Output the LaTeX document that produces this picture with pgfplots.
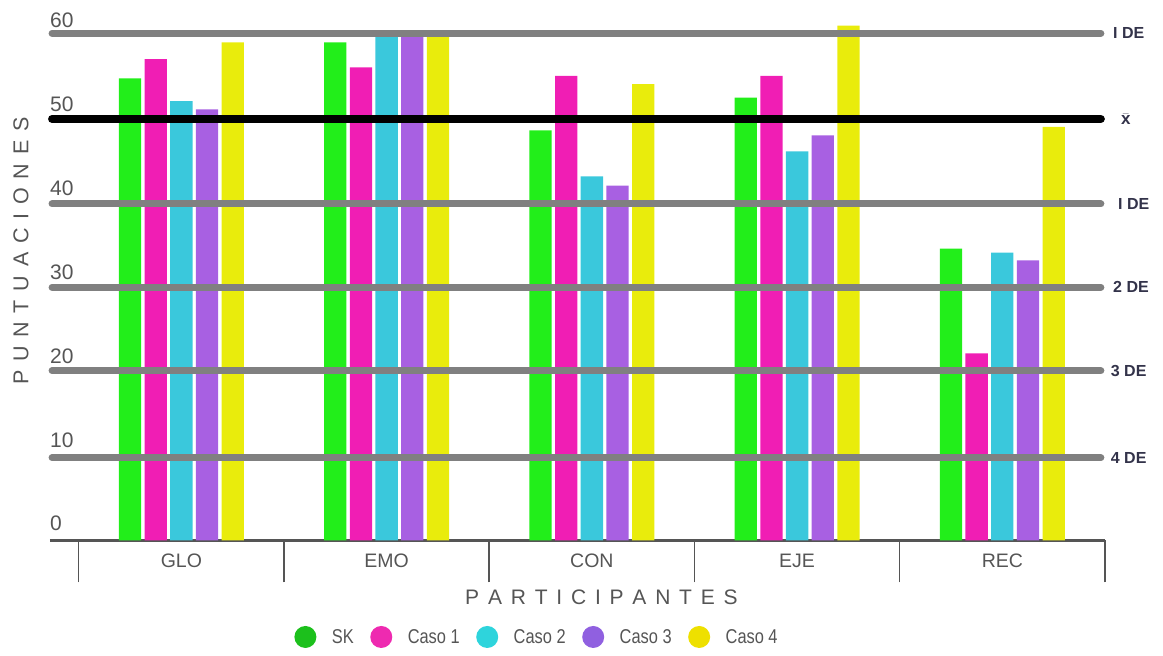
\documentclass[border=0pt]{standalone}
\usepackage{pgfplots}
\pgfplotsset{compat=1.18}
\usepackage{fontspec}
\setmainfont{Liberation Sans}
\newfontfamily\condfont[FakeStretch=0.82]{Liberation Sans}
\definecolor{cSK}{HTML}{22EE1A}
\definecolor{cC1}{HTML}{F01EB4}
\definecolor{cC2}{HTML}{3AC8DC}
\definecolor{cC3}{HTML}{A860E2}
\definecolor{cC4}{HTML}{E9EC0C}
\definecolor{lSK}{HTML}{1CC01C}
\definecolor{lC1}{HTML}{EE2AB0}
\definecolor{lC2}{HTML}{2ED4DC}
\definecolor{lC3}{HTML}{9060E0}
\definecolor{lC4}{HTML}{EEE000}
\definecolor{labgray}{HTML}{555555}
\definecolor{axisgray}{HTML}{555555}
\definecolor{linegray}{HTML}{808080}
\definecolor{rlab}{HTML}{33334A}
\newcommand\ls{\hspace{8.8pt}}
\pgfplotsset{legcirc/.style={legend image code/.code={\fill[#1] (0pt,0pt) circle (11pt);}}}
\begin{document}
\begin{tikzpicture}[x=1pt,y=1pt]
\path[use as bounding box] (0,0) rectangle (1163,656);
\begin{axis}[
  at={(50pt,115.7pt)}, anchor=south west, scale only axis,
  width=1055pt, height=503pt,
  xmin=-0.64, xmax=4.5, ymin=0, ymax=60,
  clip=false,
  ybar=3.4pt, bar width=22.3pt,
  axis x line*=bottom, axis y line*=left,
  x axis line style={draw=axisgray, line width=2.5pt},
  y axis line style={draw=none},
  xtick={-0.5,0.5,1.5,2.5,3.5,4.5},
  x tick label as interval,
  xticklabels={GLO,EMO,CON,EJE,REC},
  xtick align=outside,
  xtick style={draw=axisgray, line width=1.5pt},
  major tick length=42pt,
  ytick={0,10,20,30,40,50,60},
  ytick style={draw=none},
  /pgf/number format/assume math mode=true,
  yticklabel style={anchor=base west, inner sep=0pt, yshift=9.3pt, font=\fontsize{21}{25}\selectfont, text=labgray},
  xticklabel style={font=\fontsize{19.5}{23}\selectfont, text=labgray, yshift=32pt},
  ylabel={P\ls U\ls N\ls T\ls U\ls A\ls C\ls I\ls O\ls N\ls E\ls S},
  ylabel style={at={(axis description cs:-0.0275,0.575)}, anchor=center, font=\fontsize{21.5}{25}\selectfont, text=labgray},
  xlabel={P\ls A\ls R\ls T\ls I\ls C\ls I\ls P\ls A\ls N\ls T\ls E\ls S},
  xlabel style={at={(axis description cs:0.5227,-0.1137)}, anchor=center, font=\fontsize{21}{25}\selectfont, text=labgray},
  legend columns=5,
  legend style={at={(axis description cs:0.4607,-0.1922)}, anchor=center, draw=none, fill=none,
    font=\condfont\fontsize{20}{24}\selectfont, text=labgray, nodes={inner sep=0pt},
    /tikz/every odd column/.append style={column sep=15.5pt},
    /tikz/every even column/.append style={column sep=16.5pt}},
]
\addplot[fill=cSK, draw=none, legcirc=lSK] coordinates {(0,55.1) (1,59.4) (2,48.9) (3,52.8) (4,34.8)};
\addlegendentry{SK}
\addplot[fill=cC1, draw=none, legcirc=lC1] coordinates {(0,57.4) (1,56.4) (2,55.4) (3,55.4) (4,22.3)};
\addlegendentry{Caso 1}
\addplot[fill=cC2, draw=none, legcirc=lC2] coordinates {(0,52.4) (1,60.5) (2,43.4) (3,46.4) (4,34.3)};
\addlegendentry{Caso 2}
\addplot[fill=cC3, draw=none, legcirc=lC3] coordinates {(0,51.4) (1,60.5) (2,42.3) (3,48.3) (4,33.4)};
\addlegendentry{Caso 3}
\addplot[fill=cC4, draw=none, legcirc=lC4] coordinates {(0,59.4) (1,60.5) (2,54.4) (3,61.4) (4,49.3)};
\addlegendentry{Caso 4}
\draw[line width=7pt, draw=linegray, line cap=round] (axis cs:-0.63,60.48) -- (axis cs:4.48,60.48);
\draw[line width=8pt, draw=black, line cap=round] (axis cs:-0.63,50.26) -- (axis cs:4.48,50.26);
\draw[line width=7pt, draw=linegray, line cap=round] (axis cs:-0.63,40.12) -- (axis cs:4.48,40.12);
\draw[line width=7pt, draw=linegray, line cap=round] (axis cs:-0.63,30.18) -- (axis cs:4.48,30.18);
\draw[line width=7pt, draw=linegray, line cap=round] (axis cs:-0.63,20.23) -- (axis cs:4.48,20.23);
\draw[line width=7pt, draw=linegray, line cap=round] (axis cs:-0.63,9.85) -- (axis cs:4.48,9.85);
\node[anchor=west, inner sep=0pt, font=\bfseries\fontsize{16}{19}\selectfont, text=rlab, xshift=8pt] at (axis cs:4.5,60.48) {I DE};
\node[anchor=west, inner sep=0pt, font=\bfseries\fontsize{17}{19}\selectfont, text=rlab, xshift=16pt] at (axis cs:4.5,50.26) {$\bar{\textbf{x}}$};
\node[anchor=west, inner sep=0pt, font=\bfseries\fontsize{16}{19}\selectfont, text=rlab, xshift=13pt] at (axis cs:4.5,40.12) {I DE};
\node[anchor=west, inner sep=0pt, font=\bfseries\fontsize{16}{19}\selectfont, text=rlab, xshift=8pt] at (axis cs:4.5,30.18) {2 DE};
\node[anchor=west, inner sep=0pt, font=\bfseries\fontsize{16}{19}\selectfont, text=rlab, xshift=5.7pt] at (axis cs:4.5,20.23) {3 DE};
\node[anchor=west, inner sep=0pt, font=\bfseries\fontsize{16}{19}\selectfont, text=rlab, xshift=5.7pt] at (axis cs:4.5,9.85) {4 DE};
\end{axis}
\end{tikzpicture}
\end{document}
